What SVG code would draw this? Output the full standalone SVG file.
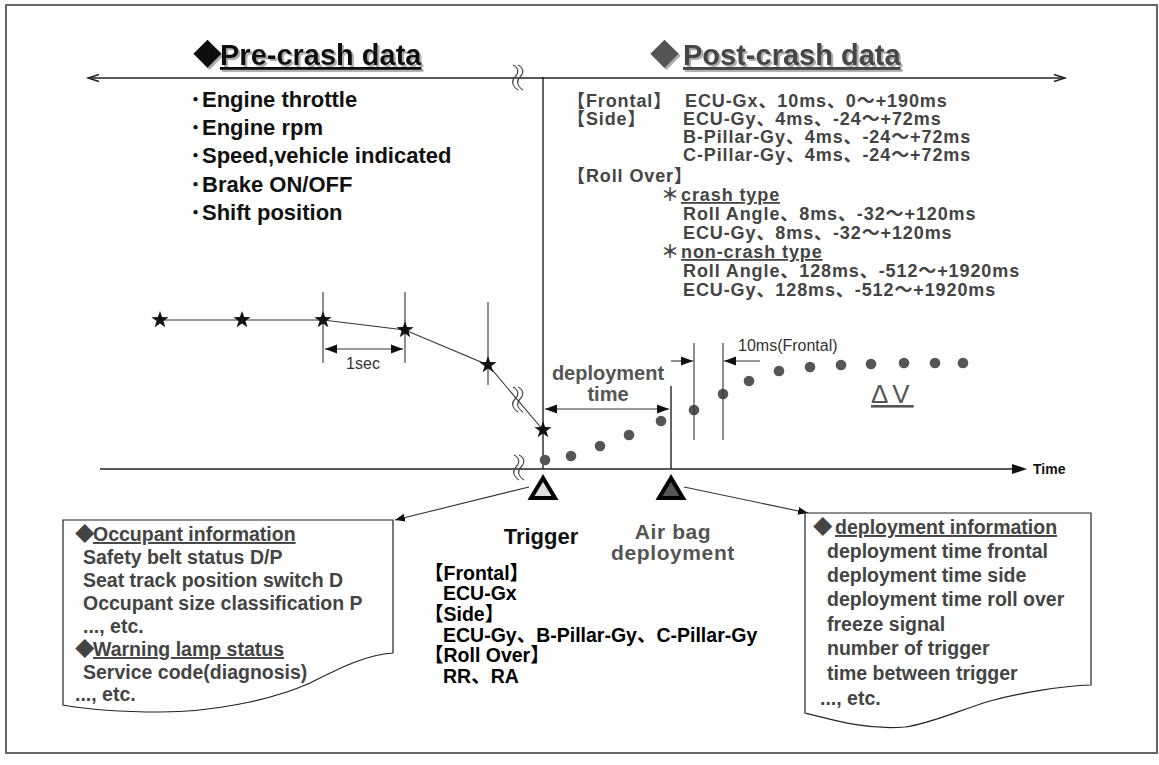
<svg xmlns="http://www.w3.org/2000/svg" xmlns:xlink="http://www.w3.org/1999/xlink" width="1159" height="765" viewBox="0 0 1159 765">
<style>
.b{font-family:"Liberation Sans","Noto Sans CJK JP",sans-serif;font-weight:bold}
.r{font-family:"Liberation Sans","Noto Sans CJK JP",sans-serif}
.ttl{font-size:29px}
.pre{font-size:22px;fill:#111}
.post{font-size:18px;fill:#444;letter-spacing:0.9px}
.box{font-size:19.5px;fill:#444}
.trg{font-size:19.5px;fill:#000}
.u{text-decoration:underline}
.ln{stroke:#222;stroke-width:1.4;fill:none}
.thin{stroke:#333;stroke-width:1.1;fill:none}
.dot{fill:#555}
</style>
<defs>
<filter id="sh" x="-5%" y="-20%" width="115%" height="150%"><feDropShadow dx="2" dy="2" stdDeviation="0.6" flood-color="#999" flood-opacity="0.8"/></filter>
<marker id="ah" viewBox="0 0 12 10" refX="12" refY="5" markerWidth="12" markerHeight="10" markerUnits="userSpaceOnUse" orient="auto-start-reverse"><path d="M0,0.5 L12,5 L0,9.5 z" fill="#111"/></marker>
<marker id="ahs" viewBox="0 0 10 8" refX="10" refY="4" markerWidth="10" markerHeight="8" markerUnits="userSpaceOnUse" orient="auto"><path d="M0,0 L10,4 L0,8 z" fill="#111"/></marker>
<path id="star" d="M0,-9 L2.1,-2.9 L8.6,-2.8 L3.4,1.1 L5.3,7.3 L0,3.6 L-5.3,7.3 L-3.4,1.1 L-8.6,-2.8 L-2.1,-2.9 Z" fill="#111"/>
<g id="brk" fill="none" stroke="#444" stroke-width="1.1"><path d="M-4,-13 C2,-10 2,-5 -2,-1 C-6,3 -5,8 1,12"/><path d="M1,-13 C7,-10 7,-5 3,-1 C-1,3 0,8 6,12"/></g>
</defs>
<rect x="6" y="5" width="1151" height="748" fill="#fff" stroke="#666" stroke-width="2"/>

<g id="connectors">
<line class="ln" x1="88" y1="78" x2="1065" y2="78"/>
<polyline class="ln" points="99,74.5 88,78 99,81.5"/>
<polyline class="ln" points="1054,74.5 1065,78 1054,81.5"/>
<line class="ln" x1="543" y1="77" x2="543" y2="469"/>
<line class="ln" x1="100" y1="469" x2="1014" y2="469"/>
<polygon points="1012,464 1027,469 1012,474" fill="#111"/>
<line class="ln" x1="671" y1="386" x2="671" y2="469"/>
<use xlink:href="#brk" x="517" y="78"/>
<use xlink:href="#brk" x="517" y="400"/>
<use xlink:href="#brk" x="518" y="468"/>
<line class="thin" x1="529" y1="487" x2="395" y2="520" marker-end="url(#ahs)"/>
<line class="thin" x1="684" y1="487" x2="808" y2="513" marker-end="url(#ahs)"/>
</g>

<g id="pre-crash">
<text class="b ttl" x="193" y="65" fill="#111" filter="url(#sh)">◆<tspan x="220" class="u">Pre-crash data</tspan></text>
<text class="b pre" x="190" y="107">･<tspan x="202">Engine throttle</tspan></text>
<text class="b pre" x="190" y="135">･<tspan x="202">Engine rpm</tspan></text>
<text class="b pre" x="190" y="163">･<tspan x="202">Speed,vehicle indicated</tspan></text>
<text class="b pre" x="190" y="192">･<tspan x="202">Brake ON/OFF</tspan></text>
<text class="b pre" x="190" y="220">･<tspan x="202">Shift position</tspan></text>
</g>

<g id="post-crash">
<text class="b ttl" x="650" y="65" fill="#555" filter="url(#sh)">◆<tspan x="683" class="u" fill="#444">Post-crash data</tspan></text>
<text class="b post" x="567" y="107">【Frontal】</text>
<text class="b post" x="685" y="107">ECU-Gx、10ms、0～+190ms</text>
<text class="b post" x="567" y="125">【Side】</text>
<text class="b post" x="683" y="125">ECU-Gy、4ms、-24～+72ms</text>
<text class="b post" x="683" y="143">B-Pillar-Gy、4ms、-24～+72ms</text>
<text class="b post" x="683" y="161">C-Pillar-Gy、4ms、-24～+72ms</text>
<text class="b post" x="567" y="182">【Roll Over】</text>
<text class="b post" x="661" y="201">＊</text>
<text class="b post u" x="681" y="201">crash type</text>
<text class="b post" x="683" y="220">Roll Angle、8ms、-32～+120ms</text>
<text class="b post" x="683" y="239">ECU-Gy、8ms、-32～+120ms</text>
<text class="b post" x="661" y="258">＊</text>
<text class="b post u" x="681" y="258">non-crash type</text>
<text class="b post" x="683" y="277">Roll Angle、128ms、-512～+1920ms</text>
<text class="b post" x="683" y="296">ECU-Gy、128ms、-512～+1920ms</text>
</g>

<g id="pre-crash-chart">
<polyline class="thin" points="160,320 242,320 323,320 405,330 488,365 543,430"/>
<line class="thin" x1="323" y1="292" x2="323" y2="363"/>
<line class="thin" x1="405" y1="292" x2="405" y2="363"/>
<line class="thin" x1="488" y1="302" x2="488" y2="385"/>
<line class="thin" x1="325" y1="349" x2="403" y2="349" marker-start="url(#ah)" marker-end="url(#ah)"/>
<text class="r" x="363" y="369" font-size="16" fill="#333" text-anchor="middle">1sec</text>
<use xlink:href="#star" x="160" y="320"/>
<use xlink:href="#star" x="242" y="320"/>
<use xlink:href="#star" x="323" y="320"/>
<use xlink:href="#star" x="405" y="330"/>
<use xlink:href="#star" x="488" y="365"/>
<use xlink:href="#star" x="543" y="430"/>
</g>

<g id="post-crash-chart">
<circle class="dot" cx="545" cy="460" r="5.3"/>
<circle class="dot" cx="571" cy="456" r="5.3"/>
<circle class="dot" cx="600" cy="446" r="5.3"/>
<circle class="dot" cx="629" cy="435" r="5.3"/>
<circle class="dot" cx="661" cy="421" r="5.3"/>
<circle class="dot" cx="694" cy="410" r="5.3"/>
<circle class="dot" cx="723" cy="394" r="5.3"/>
<circle class="dot" cx="749" cy="381" r="5.3"/>
<circle class="dot" cx="779" cy="371" r="5.3"/>
<circle class="dot" cx="810" cy="367" r="5.3"/>
<circle class="dot" cx="841" cy="365" r="5.3"/>
<circle class="dot" cx="871" cy="364" r="5.3"/>
<circle class="dot" cx="904" cy="363" r="5.3"/>
<circle class="dot" cx="935" cy="363" r="5.3"/>
<circle class="dot" cx="963" cy="363" r="5.3"/>
<line class="thin" x1="545" y1="409" x2="669" y2="409" marker-start="url(#ah)" marker-end="url(#ah)"/>
<text class="b" x="608" y="380" font-size="20" fill="#555" text-anchor="middle">deployment</text>
<text class="b" x="608" y="401" font-size="20" fill="#555" text-anchor="middle">time</text>
<line class="thin" x1="694" y1="343" x2="694" y2="440"/>
<line class="thin" x1="723" y1="343" x2="723" y2="440"/>
<line class="thin" x1="671" y1="361" x2="693" y2="361" marker-end="url(#ah)"/>
<line class="thin" x1="760" y1="361" x2="724" y2="361" marker-end="url(#ah)"/>
<text class="r" x="738" y="351" font-size="16" fill="#333">10ms(Frontal)</text>
<text class="r u" x="871" y="403" font-size="26" fill="#555" letter-spacing="4">ΔV</text>
<text class="b" x="1033" y="474" font-size="14" fill="#111">Time</text>
</g>

<g id="trigger">
<polygon points="543,478 531,498 555,498" fill="#ddd" stroke="#000" stroke-width="4"/>
<text class="b" x="541" y="544" font-size="22" fill="#111" text-anchor="middle">Trigger</text>
<text class="b trg" x="424" y="580">【Frontal】</text>
<text class="b trg" x="443" y="600">ECU-Gx</text>
<text class="b trg" x="424" y="621">【Side】</text>
<text class="b trg" x="443" y="642">ECU-Gy、B-Pillar-Gy、C-Pillar-Gy</text>
<text class="b trg" x="424" y="662">【Roll Over】</text>
<text class="b trg" x="443" y="683">RR、RA</text>
</g>

<g id="airbag-deployment">
<polygon points="671,478 659,498 683,498" fill="#555" stroke="#000" stroke-width="4"/>
<text class="b" x="673" y="539" font-size="21" fill="#555" text-anchor="middle" letter-spacing="0.6">Air bag</text>
<text class="b" x="673" y="560" font-size="21" fill="#555" text-anchor="middle" letter-spacing="0.6">deployment</text>
</g>

<g id="occupant-box">
<path d="M63,520 H393 V653 C365,655 340,668 310,683 C270,701 210,712 160,712 C115,712 85,709 63,705 Z" fill="#fff" stroke="#222" stroke-width="1.2"/>
<text class="b box" x="75" y="541">◆<tspan x="93" class="u">Occupant information</tspan></text>
<text class="b box" x="83" y="564">Safety belt status D/P</text>
<text class="b box" x="83" y="587">Seat track position switch D</text>
<text class="b box" x="83" y="610">Occupant size classification P</text>
<text class="b box" x="83" y="633">..., etc.</text>
<text class="b box" x="75" y="656">◆<tspan x="93" class="u">Warning lamp status</tspan></text>
<text class="b box" x="83" y="679">Service code(diagnosis)</text>
<text class="b box" x="75" y="701">..., etc.</text>
</g>

<g id="deployment-box">
<path d="M805,513 H1091 V685 C1060,686 1020,693 990,701 C960,710 930,724 905,727 C870,730 840,722 805,713 Z" fill="#fff" stroke="#222" stroke-width="1.2"/>
<text class="b box" x="813" y="534">◆<tspan x="835" class="u">deployment information</tspan></text>
<text class="b box" x="827" y="558">deployment time frontal</text>
<text class="b box" x="827" y="582">deployment time side</text>
<text class="b box" x="827" y="606">deployment time roll over</text>
<text class="b box" x="827" y="631">freeze signal</text>
<text class="b box" x="827" y="655">number of trigger</text>
<text class="b box" x="827" y="680">time between trigger</text>
<text class="b box" x="820" y="705">..., etc.</text>
</g>
</svg>
